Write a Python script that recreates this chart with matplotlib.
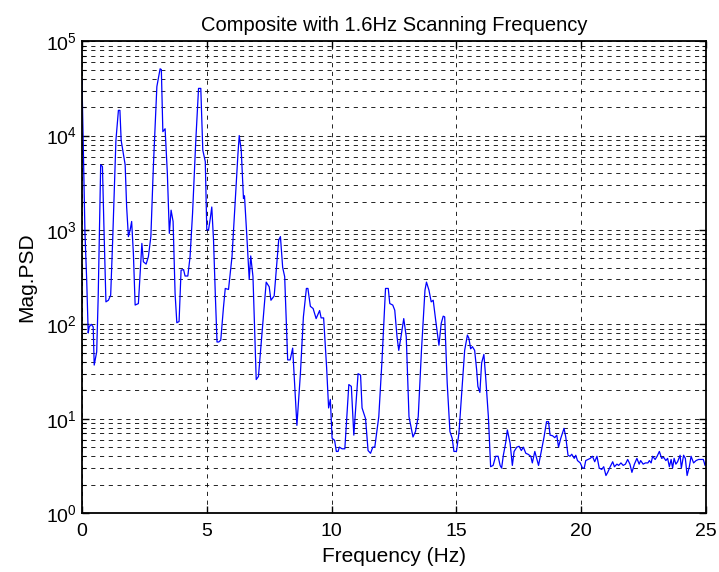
import matplotlib
matplotlib.use("Agg")
import matplotlib.pyplot as plt
import numpy as np
from matplotlib.ticker import LogLocator, FixedLocator, NullFormatter

plt.rcParams['font.family'] = ['Liberation Sans', 'DejaVu Sans']
plt.rcParams['mathtext.fontset'] = 'custom'
plt.rcParams['mathtext.rm'] = 'Liberation Sans'

# PSD trace (frequency in Hz, magnitude)
freq = [
    0.00, 0.12, 0.19, 0.25, 0.29, 0.37, 0.45, 0.49, 0.59, 0.65, 0.75, 0.82, 0.88, 0.96,
    1.06, 1.15, 1.23, 1.36, 1.46, 1.52, 1.57, 1.73, 1.79, 1.86, 1.93, 1.99, 2.06, 2.13,
    2.26, 2.40, 2.46, 2.57, 2.66, 2.76, 2.86, 3.00, 3.13, 3.18, 3.24, 3.33, 3.42, 3.50,
    3.57, 3.65, 3.73, 3.80, 3.89, 3.97, 4.07, 4.13, 4.24, 4.33, 4.43, 4.56, 4.67, 4.76,
    4.84, 4.94, 5.00, 5.07, 5.14, 5.20, 5.27, 5.34, 5.41, 5.48, 5.56, 5.67, 5.74, 5.87,
    6.01, 6.14, 6.25, 6.30, 6.38, 6.47, 6.51, 6.60, 6.70, 6.76, 6.85, 6.98, 7.07, 7.21,
    7.38, 7.50, 7.57, 7.70, 7.88, 7.95, 8.04, 8.12, 8.24, 8.34, 8.44, 8.61, 8.75, 8.87,
    8.99, 9.05, 9.15, 9.26, 9.38, 9.52, 9.58, 9.68, 9.80, 9.88, 9.95, 10.02, 10.12, 10.19,
    10.26, 10.31, 10.42, 10.53, 10.69, 10.79, 10.89, 11.06, 11.16, 11.22, 11.36, 11.46, 11.56, 11.65,
    11.73, 11.89, 12.02, 12.16, 12.27, 12.33, 12.45, 12.53, 12.62, 12.69, 12.78, 12.89, 12.99, 13.10,
    13.26, 13.36, 13.47, 13.60, 13.74, 13.80, 13.90, 13.99, 14.07, 14.17, 14.30, 14.39, 14.47, 14.53,
    14.63, 14.74, 14.83, 14.90, 15.00, 15.10, 15.24, 15.33, 15.44, 15.50, 15.57, 15.64, 15.73, 15.81,
    15.86, 15.94, 16.01, 16.10, 16.17, 16.28, 16.37, 16.47, 16.57, 16.67, 16.75, 16.81, 16.88, 16.97,
    17.04, 17.15, 17.24, 17.31, 17.42, 17.51, 17.60, 17.68, 17.78, 17.87, 17.98, 18.04, 18.14, 18.29,
    18.40, 18.51, 18.61, 18.69, 18.75, 18.85, 18.94, 19.02, 19.09, 19.18, 19.31, 19.38, 19.47, 19.55,
    19.62, 19.72, 19.78, 19.85, 19.96, 20.05, 20.12, 20.18, 20.27, 20.36, 20.45, 20.54, 20.63, 20.72,
    20.82, 20.90, 20.99, 21.06, 21.16, 21.26, 21.33, 21.43, 21.50, 21.59, 21.68, 21.77, 21.86, 21.95,
    22.03, 22.13, 22.23, 22.32, 22.38, 22.48, 22.57, 22.67, 22.73, 22.80, 22.86, 22.96, 23.04, 23.13,
    23.22, 23.30, 23.39, 23.46, 23.53, 23.60, 23.66, 23.72, 23.79, 23.86, 23.96, 24.01, 24.10, 24.17,
    24.24, 24.33, 24.40, 24.50, 24.60, 24.70, 24.80, 24.89, 24.96, 25.00,
]
psd = [
    40000, 930, 290, 81, 94, 100, 94, 37, 51, 195, 4900, 4700, 1070, 173,
    180, 204, 780, 8900, 18500, 18500, 8900, 4900, 1750, 850, 1000, 1230, 560, 160,
    166, 720, 460, 435, 520, 850, 4700, 33000, 51000, 50000, 11000, 11800, 4000, 920,
    1620, 1230, 213, 104, 107, 375, 380, 325, 325, 520, 1500, 8900, 31600, 31600,
    7000, 5300, 1000, 1000, 1320, 1750, 780, 213, 65, 65, 68, 153, 240, 234,
    520, 2080, 6500, 10000, 7000, 2150, 2300, 900, 300, 530, 320, 26, 28, 80,
    280, 250, 180, 200, 780, 850, 400, 320, 42, 42, 56, 8.5, 30, 120,
    240, 240, 155, 147, 115, 140, 117, 117, 35, 13, 16, 6.2, 5.9, 4.5,
    4.5, 5.0, 4.8, 4.8, 23, 22, 6.7, 30, 29, 13, 10, 4.6, 4.3, 5.0,
    5.0, 10.5, 42, 240, 240, 166, 160, 141, 74, 53, 74, 115, 74, 10.5,
    6.4, 7.3, 10.5, 53, 230, 280, 230, 173, 180, 110, 60, 102, 122, 120,
    24, 7.3, 6.2, 4.5, 4.5, 7.0, 24, 53, 77, 71, 55, 58, 53, 33,
    22, 19, 39, 48, 28, 10.5, 3.1, 3.2, 4.0, 4.0, 3.2, 3.0, 4.1, 5.5,
    7.6, 5.5, 3.2, 4.5, 5.0, 5.1, 4.6, 5.0, 4.3, 4.2, 4.0, 3.4, 4.5, 3.2,
    4.5, 6.4, 9.3, 9.3, 6.7, 6.6, 6.3, 6.7, 5.0, 6.2, 7.9, 6.4, 4.1, 4.0,
    4.2, 3.8, 4.1, 3.6, 3.4, 3.0, 3.0, 3.6, 3.7, 3.8, 4.0, 3.5, 4.0, 3.0,
    2.9, 3.1, 2.5, 2.7, 3.1, 3.5, 3.1, 3.3, 3.2, 3.4, 3.2, 3.3, 3.7, 3.3,
    2.7, 3.3, 3.8, 3.3, 3.6, 3.3, 3.4, 3.4, 3.6, 3.4, 4.0, 3.7, 4.0, 4.5,
    3.8, 3.9, 3.6, 3.8, 3.1, 3.7, 3.0, 3.8, 3.3, 3.5, 4.1, 3.0, 4.1, 3.8,
    2.5, 3.1, 4.0, 3.4, 3.6, 3.7, 3.7, 3.7, 3.2, 3.5,
]
x_ticks = [0, 5, 10, 15, 20, 25]

fig = plt.figure(figsize=(7.19, 5.72), dpi=100)
ax = fig.add_axes([0.114, 0.103, 0.868, 0.825])

ax.plot(freq, psd, color='#0000ff', linewidth=0.9)
ax.set_yscale('log')
ax.set_xlim(0, 25)
ax.set_ylim(1, 1e5)

ax.xaxis.set_major_locator(FixedLocator(x_ticks))
ax.yaxis.set_major_locator(LogLocator(base=10, numticks=10))
ax.yaxis.set_minor_locator(LogLocator(base=10, subs=np.arange(2, 10), numticks=10))
ax.yaxis.set_minor_formatter(NullFormatter())

grid_style = dict(color='black', linestyle=(0, (5, 5.5)), linewidth=0.6)
ax.grid(True, which='major', axis='both', **grid_style)
ax.grid(True, which='minor', axis='y', **grid_style)

ax.tick_params(which='both', direction='in', top=True, right=True, labelsize=14)
ax.tick_params(which='major', length=5, width=1)
ax.tick_params(axis='x', which='major', pad=7)
ax.tick_params(which='minor', length=3, width=0.8)
for sp in ax.spines.values():
    sp.set_linewidth(1.3)

ax.set_title('Composite with 1.6Hz Scanning Frequency', fontsize=14.5, pad=7)
ax.set_xlabel('Frequency (Hz)', fontsize=15, labelpad=5)
ax.set_ylabel('Mag.PSD', fontsize=15, labelpad=7)

fig.savefig('out.png', dpi=100)
